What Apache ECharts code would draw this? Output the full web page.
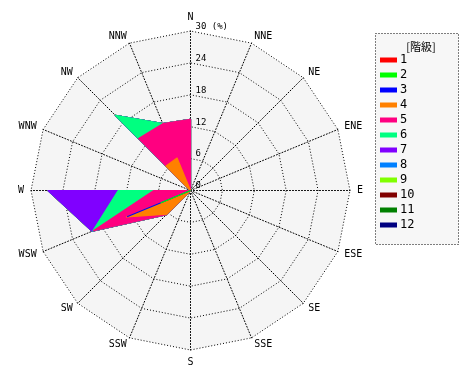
<!DOCTYPE html>
<html><head><meta charset="utf-8">
<script src="https://cdn.jsdelivr.net/npm/echarts@6/dist/echarts.min.js"></script>
<style>html,body{margin:0;padding:0;background:#fff}#c{width:470px;height:380px}</style>
</head><body><div id="c"></div>
<script>
// Directions, clockwise from north
const directions = ['N','NNE','NE','ENE','E','ESE','SE','SSE','S','SSW','SW','WSW','W','WNW','NW','NNW'];
const classNames = ['1','2','3','4','5','6','7','8','9','10','11','12'];
const classColors = ['#ff0000','#00ff00','#0000ff','#ff8000','#ff0080','#00ff80','#8000ff','#0080ff','#80ff00','#800000','#008000','#000080'];
// Frequency (%) per class, per direction (clockwise order as above)
//              N    NNE NE  ENE E   ESE SE  SSE S   SSW SW   WSW  W    WNW NW   NNW
const class1  = [0,   0,  0,  0,  0,  0,  0,  0,  0,  0,  0,   0,   0,   0,  0,   0];
const class2  = [0,   0,  0,  0,  0,  0,  0,  0,  0,  0,  0,   6.0, 0,   0,  0,   0];
const class3  = [0,   0,  0,  0,  0,  0,  0,  0,  0,  0,  0,   6.8, 0,   0,  0,   0];
const class4  = [0,   0,  0,  0,  0,  0,  0,  0,  0,  0,  6.3, 0.2, 0,   0,  6.5, 6.6];
const class5  = [13.4,0,  0,  0,  0,  0,  0,  0,  0,  0,  0.1, 6.7, 6.9, 0,  7.3, 7.0];
const class6  = [0,   0,  0,  0,  0,  0,  0,  0,  0,  0,  0,   0.2, 6.7, 0,  6.2, 0];
const class7  = [0,   0,  0,  0,  0,  0,  0,  0,  0,  0,  0,   0.1, 13.2,0,  0,   0];
const class8  = [0,   0,  0,  0,  0,  0,  0,  0,  0,  0,  0,   0,   0,   0,  0,   0];
const class9  = [0,   0,  0,  0,  0,  0,  0,  0,  0,  0,  0,   0,   0,   0,  0,   0];
const class10 = [0,   0,  0,  0,  0,  0,  0,  0,  0,  0,  0,   0,   0,   0,  0,   0];
const class11 = [0,   0,  0,  0,  0,  0,  0,  0,  0,  0,  0,   0,   0,   0,  0,   0];
const class12 = [0,   0,  0,  0,  0,  0,  0,  0,  0,  0,  0,   0,   0,   0,  0,   0];
const axisMax = 30;
const axisSplits = 5;
const unitText = '(%)';
const legendTitle = '[階級]';

const classes = [class1,class2,class3,class4,class5,class6,class7,class8,class9,class10,class11,class12];
// radar indicators run counter-clockwise: reorder
const order = [0].concat(directions.map((d,i)=>i).slice(1).reverse());
const cum = [];
let run = directions.map(()=>0);
classes.forEach((arr)=>{ run = run.map((v,i)=>v+arr[i]); cum.push(run.slice()); });

const font = 'DejaVu Sans Mono';
const data = [];
for (let k = classes.length - 1; k >= 0; k--) {
  data.push({
    name: classNames[k],
    value: order.map(i => +cum[k][i].toFixed(2)),
    itemStyle: { color: classColors[k] },
    lineStyle: { color: classColors[k], width: 1.2 },
    areaStyle: { color: classColors[k], opacity: 1 }
  });
}
const dotted = { color: '#000', type: [1, 2], width: 1 };

const chart = echarts.init(document.getElementById('c'), null, {renderer: 'canvas'});
chart.setOption({
  animation: false,
  backgroundColor: '#ffffff',
  graphic: [{
    type: 'rect', left: 375, top: 33, z: -1, silent: true,
    shape: { width: 83, height: 211 },
    style: { fill: '#f7f7f7', stroke: '#000', lineWidth: 1, lineDash: [1, 2] }
  }],
  title: {
    text: legendTitle, left: 416, top: 36, textAlign: 'center',
    textStyle: { fontFamily: 'Noto Sans CJK JP', fontSize: 11, fontWeight: 'normal', color: '#000' }
  },
  legend: {
    orient: 'vertical', left: 375, top: 33,
    data: classNames,
    icon: 'rect', itemWidth: 17, itemHeight: 5, itemGap: 3,
    padding: [21, 44, 13, 5],
    selectedMode: false,
    textStyle: { fontFamily: font, fontSize: 12, color: '#000', lineHeight: 12, padding: [0,0,0,-2] }
  },
  radar: {
    center: [190.5, 190.5],
    radius: 159.5,
    startAngle: 90,
    splitNumber: axisSplits,
    shape: 'polygon',
    nameGap: 7,
    axisName: { color: '#000', fontFamily: font, fontSize: 10 },
    axisLine: { lineStyle: dotted },
    splitLine: { lineStyle: dotted },
    splitArea: { show: true, areaStyle: { color: ['#f5f5f5'] } },
    axisTick: { show: false },
    axisLabel: { show: false },
    indicator: order.map((i, j) => {
      const ind = { name: directions[i], min: 0, max: axisMax, axisLine: { lineStyle: dotted } };
      if (j === 0) ind.axisLabel = {
        show: true, color: '#000', fontFamily: font, fontSize: 9, margin: -5,
        verticalAlign: 'bottom', align: 'left',
        formatter: v => v === axisMax ? v + ' ' + unitText : String(v)
      };
      return ind;
    })
  },
  series: [{ type: 'radar', symbol: 'none', silent: true, data: data }]
});
</script></body></html>
